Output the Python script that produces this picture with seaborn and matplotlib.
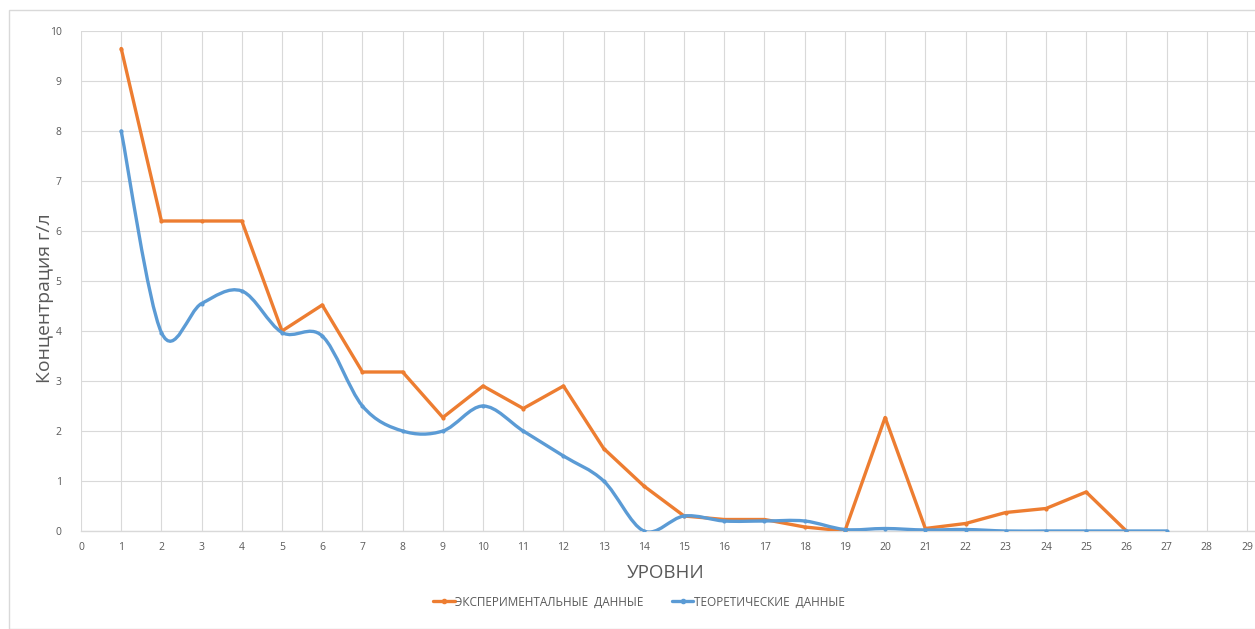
import numpy as np
import pandas as pd
import matplotlib
matplotlib.use("Agg")
import matplotlib.pyplot as plt
import seaborn as sns
from matplotlib.path import Path
from matplotlib.patches import PathPatch, Rectangle
from matplotlib.lines import Line2D

# ---- data ----
levels_exp = list(range(1, 27))
exp_vals = [9.65, 6.2, 6.2, 6.2, 4.0, 4.52, 3.18, 3.18, 2.27, 2.9, 2.45, 2.9, 1.65,
            0.9, 0.3, 0.23, 0.23, 0.08, 0.0, 2.27, 0.05, 0.15, 0.37, 0.45, 0.78, 0.0]
levels_theo = list(range(1, 28))
theo_vals = [8.0, 3.97, 4.55, 4.8, 3.97, 3.9, 2.5, 2.0, 2.0, 2.5, 2.0, 1.5, 1.0,
             0.0, 0.3, 0.2, 0.2, 0.2, 0.03, 0.05, 0.02, 0.03, 0.0, 0.0, 0.0, 0.0, 0.0]
x_ticks = list(range(0, 30))
y_ticks = list(range(0, 11))
label_exp = "ЭКСПЕРИМЕНТАЛЬНЫЕ  ДАННЫЕ"
label_theo = "ТЕОРЕТИЧЕСКИЕ  ДАННЫЕ"

ORANGE = "#ED7D31"
BLUE = "#5B9BD5"
GRAY_TXT = "#595959"
GRID = "#D9D9D9"

sns.set_theme(style="white")
plt.rcParams['font.family'] = ['Open Sans', 'DejaVu Sans']

fig = plt.figure(figsize=(12.55, 6.29), dpi=100)
ax = fig.add_axes([81/1255, 1-531/629, 1-81/1255, (531-31)/629])

df_exp = pd.DataFrame({"x": levels_exp, "y": exp_vals})
df_theo = pd.DataFrame({"x": levels_theo, "y": theo_vals})

sns.lineplot(data=df_exp, x="x", y="y", ax=ax, color=ORANGE, lw=2.4,
             marker="o", markersize=3, markeredgewidth=0, zorder=3)

# smoothed blue line (Excel-style cubic Bezier through the points)
xs = np.array(levels_theo, dtype=float)
ys = np.array(theo_vals, dtype=float)
pts = np.column_stack([xs, ys])
verts = [tuple(pts[0])]
codes = [Path.MOVETO]
n = len(pts)
for i in range(n - 1):
    p0 = pts[i - 1] if i > 0 else pts[i]
    p1 = pts[i]
    p2 = pts[i + 1]
    p3 = pts[i + 2] if i + 2 < n else pts[i + 1]
    c1 = p1 + (p2 - p0) / 6.0
    c2 = p2 - (p3 - p1) / 6.0
    verts += [tuple(c1), tuple(c2), tuple(p2)]
    codes += [Path.CURVE4] * 3
ax.add_patch(PathPatch(Path(verts, codes), facecolor="none", edgecolor=BLUE,
                       lw=2.4, zorder=4, capstyle="round", joinstyle="round"))
sns.scatterplot(data=df_theo, x="x", y="y", ax=ax, color=BLUE, s=9,
                linewidth=0, zorder=5)

ax.set_xlim(0, 29.2)
ax.set_ylim(0, 10)
ax.set_xticks(x_ticks)
ax.set_yticks(y_ticks)
ax.grid(True, color=GRID, lw=0.8)
ax.set_axisbelow(True)
for s in ["top", "right", "left"]:
    ax.spines[s].set_visible(False)
ax.spines["bottom"].set_color(GRID)
ax.spines["bottom"].set_linewidth(1.0)
ax.tick_params(axis="both", length=0, labelsize=7.5, labelcolor=GRAY_TXT, pad=8)
ax.tick_params(axis="y", pad=14)
ax.set_xlabel("УРОВНИ", fontsize=13.5, color=GRAY_TXT)
ax.xaxis.set_label_coords((666-81)/1174, (531-573)/500)
ax.xaxis.label.set_va("center")

ylab = ax.set_ylabel("Концентрация г/л", fontsize=12.5, color=GRAY_TXT)
ax.yaxis.set_label_coords((45-81)/1174, (531-298)/500)
ylab.set_va("center")
# fit label length to ~170 px
r = fig.canvas.get_renderer()
h = ylab.get_window_extent(r).height
ylab.set_fontsize(12.5 * 170.0 / h)

handles = [Line2D([0], [0], color=ORANGE, lw=2.4, marker="o", markersize=3),
           Line2D([0], [0], color=BLUE, lw=2.4, marker="o", markersize=3)]
fig.legend(handles, [label_exp, label_theo], loc="center", ncol=2,
           bbox_to_anchor=(639/1255, 1-602/629), frameon=False, fontsize=8.5,
           labelcolor=GRAY_TXT, handlelength=1.8, handletextpad=0.05,
           columnspacing=2.4)

fig.patches.append(Rectangle((9/1255, 0), 1, 1-10/629, transform=fig.transFigure,
                             facecolor="none", edgecolor=GRID, lw=1.0))

fig.savefig("out.png", dpi=100)
